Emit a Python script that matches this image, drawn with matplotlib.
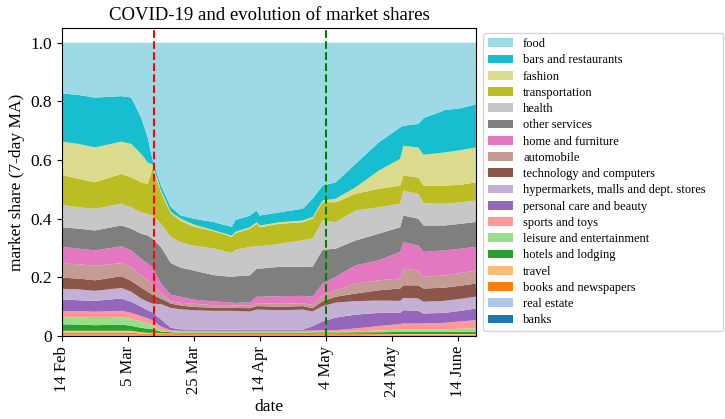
import matplotlib
matplotlib.use("Agg")
import matplotlib.pyplot as plt
import numpy as np

plt.rcParams["font.family"] = ["Liberation Serif", "DejaVu Serif"]

# days since 14 Feb (sample points)
days = [0, 5, 10, 18, 21, 24, 26, 27.5, 30, 33, 36, 40, 46, 51.5, 52.5, 57,
        59, 60, 66, 73, 76, 79, 83, 89, 96, 102.5, 103.5, 108, 109.6, 116, 121, 125.5]

# market shares per category (stack order: bottom -> top)
banks = [.002] * 24 + [.001] * 8
real_estate = [.003, .003, .003, .003, .003, .002, .002, .002, .002, .002, .002, .002, .002, .002, .002, .002,
               .002, .002, .002, .002, .002, .002, .002, .002, .002, .001, .001, .001, .001, .001, .001, .001]
books = [.007, .007, .007, .007, .007, .004, .003, .003, .003, .003, .003, .003, .003, .003, .003, .003,
         .003, .003, .003, .003, .003, .004, .003, .003, .003, .003, .003, .003, .003, .003, .003, .003]
travel = [.006, .006, .006, .006, .006, .005, .004, .004, .003, .002, .001, .001, .001, .001, .001, .001,
          .001, .001, .001, .001, .001, .001, .001, .001, .001, .002, .002, .002, .002, .002, .002, .002]
hotels = [.022, .021, .019, .021, .017, .015, .014, .012, .005, .004, .003, .003, .003, .003, .003, .003,
          .003, .003, .003, .003, .004, .004, .004, .005, .006, .007, .007, .007, .007, .007, .008, .008]
leisure = [.023, .024, .024, .024, .024, .021, .018, .015, .005, .003, .003, .003, .003, .003, .003, .003,
           .003, .003, .003, .003, .002, .002, .002, .003, .006, .008, .009, .009, .009, .009, .010, .011]
sports = [.022, .022, .022, .023, .020, .019, .017, .015, .012, .004, .004, .004, .004, .004, .004, .004,
          .004, .004, .004, .004, .005, .005, .006, .010, .015, .019, .020, .020, .020, .022, .025, .028]
personal_care = [.040, .037, .037, .042, .038, .032, .028, .027, .025, .008, .005, .004, .004, .004, .004, .004,
                 .004, .004, .004, .004, .015, .030, .043, .047, .045, .038, .045, .043, .034, .034, .036, .040]
hypermarkets = [.036, .037, .034, .036, .034, .028, .029, .030, .052, .068, .068, .066, .064, .064, .063, .062,
                .068, .068, .066, .068, .050, .052, .051, .046, .042, .041, .042, .042, .040, .041, .041, .040]
technology = [.038, .037, .036, .040, .037, .037, .034, .030, .019, .015, .013, .011, .011, .011, .011, .011,
              .012, .012, .012, .012, .011, .017, .020, .026, .035, .042, .043, .045, .045, .045, .045, .045]
automobile = [.048, .049, .049, .045, .048, .042, .039, .035, .017, .008, .009, .011, .008, .008, .008, .008,
              .010, .010, .010, .010, .011, .020, .022, .034, .034, .034, .057, .051, .040, .042, .043, .045]
home = [.057, .053, .053, .057, .056, .057, .057, .058, .034, .022, .021, .014, .013, .010, .009, .012,
        .022, .022, .026, .025, .029, .040, .046, .062, .068, .091, .090, .085, .085, .085, .083, .080]
other_services = [.067, .068, .068, .071, .074, .085, .096, .098, .125, .108, .099, .099, .090, .087, .091, .092,
                  .096, .096, .100, .099, .102, .115, .096, .085, .091, .084, .091, .091, .090, .085, .085, .085]
health = [.076, .073, .074, .074, .073, .073, .074, .078, .079, .090, .087, .085, .091, .082, .090, .097,
          .076, .076, .079, .090, .096, .100, .090, .102, .090, .080, .085, .085, .076, .074, .073, .073]
transportation = [.102, .097, .090, .102, .102, .102, .102, .165, .107, .080, .072, .065, .059, .055, .057, .062,
                  .077, .065, .068, .062, .068, .062, .068, .057, .063, .062, .051, .056, .060, .062, .060, .062]
fashion = [.114, .119, .119, .110, .114, .097, .073, .010, .008, .005, .008, .007, .003, .004, .005, .005,
           .005, .006, .005, .006, .005, .006, .012, .022, .062, .091, .102, .102, .105, .113, .118, .119]
bars = [.164, .167, .170, .155, .158, .124, .085, .015, .015, .017, .011, .020, .028, .030, .040, .040,
        .040, .034, .034, .040, .063, .051, .056, .080, .096, .107, .068, .080, .125, .144, .143, .147]
food = [.173, .178, .187, .182, .187, .255, .323, .400, .487, .561, .589, .600, .612, .629, .606, .589,
        .572, .589, .578, .566, .532, .487, .476, .413, .340, .289, .283, .277, .257, .230, .223, .210]

labels = ["banks", "real estate", "books and newspapers", "travel", "hotels and lodging",
          "leisure and entertainment", "sports and toys", "personal care and beauty",
          "hypermarkets, malls and dept. stores", "technology and computers", "automobile",
          "home and furniture", "other services", "health", "transportation", "fashion",
          "bars and restaurants", "food"]
colors = ["#1f77b4", "#aec7e8", "#ff7f0e", "#ffbb78", "#2ca02c", "#98df8a", "#ff9896", "#9467bd",
          "#c5b0d5", "#8c564b", "#c49c94", "#e377c2", "#7f7f7f", "#c7c7c7", "#bcbd22", "#dbdb8d",
          "#17becf", "#9edae5"]

tick_days = [0, 20, 40, 60, 80, 100, 120]
tick_labels = ["14 Feb", "5 Mar", "25 Mar", "14 Apr", "4 May", "24 May", "14 June"]
lockdown_day, reopening_day = 28, 80

shares = np.array([banks, real_estate, books, travel, hotels, leisure, sports, personal_care,
                   hypermarkets, technology, automobile, home, other_services, health,
                   transportation, fashion, bars, food])
shares = shares / shares.sum(axis=0)

fig = plt.figure(figsize=(7.25, 4.19), dpi=100)
ax = fig.add_axes([0.0855, 0.198, 0.571, 0.735])
ax.stackplot(days, shares, labels=labels, colors=colors)
ax.axvline(lockdown_day, color="red", linestyle="--", linewidth=1.5)
ax.axvline(reopening_day, color="green", linestyle="--", linewidth=1.5)

ax.set_xlim(0, 125.5)
ax.set_ylim(0, 1.05)
ax.set_xticks(tick_days)
ax.set_xticklabels(tick_labels, rotation=90, fontsize=12)
ax.set_yticks([0, 0.2, 0.4, 0.6, 0.8, 1.0])
ax.set_yticklabels(["0", "0.2", "0.4", "0.6", "0.8", "1.0"], fontsize=12.5)
ax.set_xlabel("date", fontsize=12.5, labelpad=1.5)
ax.set_ylabel("market share (7-day MA)", fontsize=12.5)
ax.set_title("COVID-19 and evolution of market shares", fontsize=13.5)

handles, names = ax.get_legend_handles_labels()
ax.legend(handles[::-1], names[::-1], loc="upper left",
          bbox_to_anchor=(1.017, 0, 0.58, 0.984), mode="expand",
          fontsize=9, labelspacing=0.34, borderaxespad=0)

fig.savefig("out.png", dpi=100)
